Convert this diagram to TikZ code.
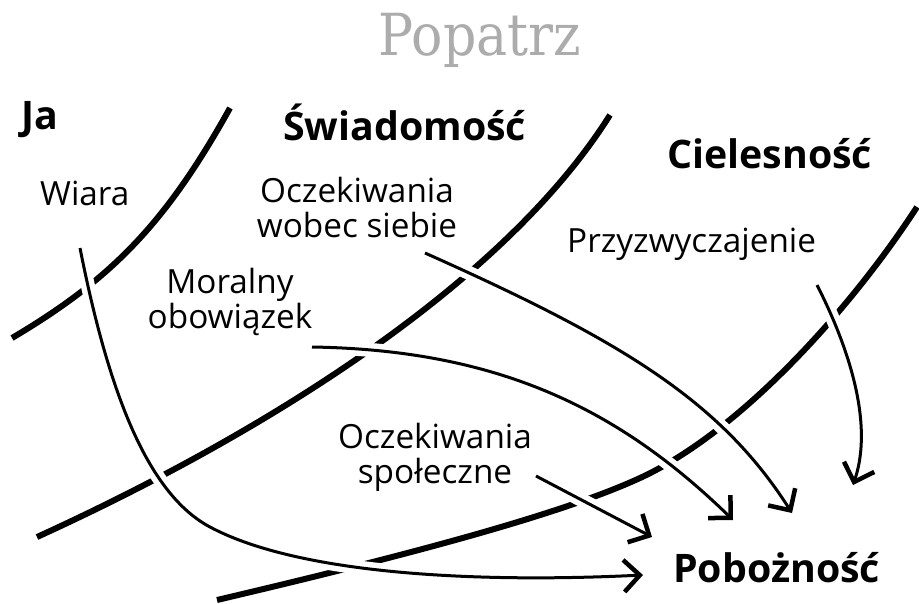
\documentclass[tikz,border=0pt]{standalone}
\usepackage{fontspec}
\setmainfont{Open Sans}
\newfontfamily\titlefont[FakeStretch=0.9]{DejaVu Serif}
\usetikzlibrary{arrows.meta}
\definecolor{titlegray}{RGB}{172,172,172}
\begin{document}
\begin{tikzpicture}[x=1pt,y=-1pt,
  boundary/.style={line width=6pt, line cap=butt},
  conn/.style={line width=3pt,
    -{Straight Barb[length=16pt,width=32pt,line width=4.5pt]},
    preaction={draw=white,line width=14pt,arrows=-}},
  lbl/.style={font=\fontsize{33.3}{34.5}\selectfont, inner sep=0pt, align=center},
  head/.style={font=\fontsize{39.3}{44}\selectfont\bfseries, inner sep=0pt}]
\useasboundingbox (0,0) rectangle (919,603);

% title
\node[font=\titlefont\fontsize{58}{66}\selectfont, text=titlegray, inner sep=0pt, anchor=base] (title) at (480,55) {Popatrz};

% headings
\node[head, anchor=base west] (ja) at (21,129) {Ja};
\node[head, anchor=base west] (swiad) at (283,140) {Świadomość};
\node[head, anchor=base west] (ciel) at (667,168) {Cielesność};
\node[head, anchor=base west] (poboz) at (673,582) {Pobożność};

% labels
\node[lbl, anchor=base west] (wiara) at (40,205) {Wiara};
\node[lbl, anchor=north] (ows) at (357,177) {Oczekiwania\\wobec siebie};
\node[lbl, anchor=north] (mor) at (230,268) {Moralny\\obowiązek};
\node[lbl, anchor=base west] (przy) at (567,252) {Przyzwyczajenie};
\node[lbl, anchor=north] (ospol) at (435,423) {Oczekiwania\\społeczne};

% boundaries
\draw[boundary] (12,338) .. controls (110,280) and (165,225) .. (230,108);
\draw[boundary] (37,537) .. controls (250,440) and (500,290) .. (610,115);
\draw[boundary] (217,600) .. controls (400,557) and (560,515) .. (640,478)
  .. controls (740,432) and (850,310) .. (917,207);

% connector ends
\coordinate (wiaraS) at (80,248);
\coordinate (owsS) at (425,253);
\coordinate (morS) at (312,347);
\coordinate (ospolS) at (536,476);
\coordinate (przyS) at (817,285);
\coordinate (tipA) at (643,575);
\coordinate (tipB) at (652,537);
\coordinate (tipC) at (733,520);
\coordinate (tipD) at (792,513);
\coordinate (tipE) at (853,485);

% connectors
\draw[conn] (wiaraS) .. controls (110,400) and (150,495) .. (210,527)
  .. controls (300,575) and (480,583) .. (tipA);
\draw[conn] (owsS) .. controls (620,340) and (720,400) .. (tipD);
\draw[conn] (morS) .. controls (500,350) and (620,410) .. (tipC);
\draw[conn] (ospolS) -- (tipB);
\draw[conn] (przyS) .. controls (845,340) and (875,420) .. (tipE);
\end{tikzpicture}
\end{document}
